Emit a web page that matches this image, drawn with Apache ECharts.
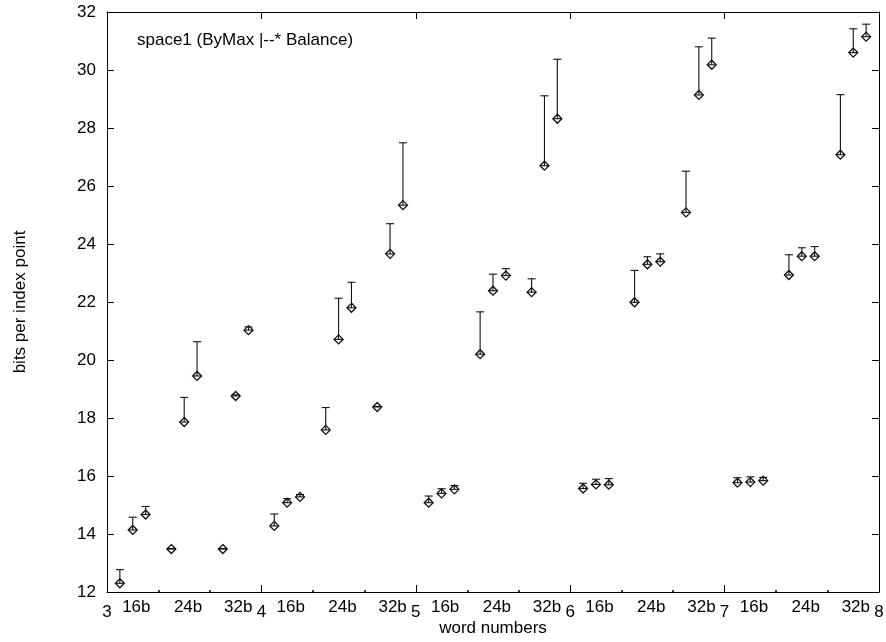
<!DOCTYPE html>
<html>
<head>
<meta charset="utf-8">
<title>space1 (ByMax |--* Balance)</title>
<script src="https://cdn.jsdelivr.net/npm/echarts@6/dist/echarts.min.js"></script>
<style>
  html, body { margin: 0; padding: 0; background: #fff; }
  #chart { width: 886px; height: 642px; }
</style>
</head>
<body>
<div id="chart"></div>
<script>
// word numbers on the x axis, and the three word widths inside each
const wordNumbers = [3, 4, 5, 6, 7];
const wordWidths = ['16b', '24b', '32b'];
const xTickLabels = ['3', '4', '5', '6', '7', '8'];

// Balance values (point) per word number, three runs per width: 16b, 24b, 32b
const balance3 = [12.30, 14.14, 14.67, 13.48, 17.86, 19.45, 13.48, 18.76, 21.03];
const balance4 = [14.28, 15.08, 15.28, 17.59, 20.71, 21.80, 18.38, 23.66, 25.34];
const balance5 = [15.08, 15.40, 15.54, 20.20, 22.39, 22.91, 22.34, 26.70, 28.32];
const balance6 = [15.57, 15.71, 15.70, 21.99, 23.30, 23.39, 25.09, 29.14, 30.18];
const balance7 = [15.77, 15.79, 15.84, 22.93, 23.58, 23.58, 27.08, 30.60, 31.15];

// ByMax values (bar top) in the same order
const byMax3 = [12.77, 14.58, 14.95, 13.50, 18.71, 20.63, 13.50, 18.80, 21.14];
const byMax4 = [14.69, 15.22, 15.36, 18.36, 22.13, 22.68, 18.40, 24.70, 27.49];
const byMax5 = [15.31, 15.56, 15.67, 21.66, 22.96, 23.15, 22.80, 29.11, 30.37];
const byMax6 = [15.75, 15.89, 15.91, 23.09, 23.56, 23.66, 26.51, 30.80, 31.10];
const byMax7 = [15.94, 15.97, 15.95, 23.63, 23.87, 23.91, 29.15, 31.42, 31.58];

const balanceByWord = [balance3, balance4, balance5, balance6, balance7];
const byMaxByWord = [byMax3, byMax4, byMax5, byMax6, byMax7];

// each word number spans one unit: three width slots of 1/3, runs at 1/12 steps
const points = [];
wordNumbers.forEach(function (n, wi) {
  balanceByWord[wi].forEach(function (v, i) {
    const slot = Math.floor(i / 3);
    const run = i % 3;
    const x = n + (slot * 4 + run + 1) / 12;
    points.push([x, v, byMaxByWord[wi][i]]);
  });
});

const minorTicks = [];
const widthLabelPos = [];
wordNumbers.forEach(function (n) {
  minorTicks.push(n + 1 / 3, n + 2 / 3);
  widthLabelPos.push(n + 0.19, n + 0.525, n + 0.85);
});

const font = '"Liberation Sans", Arial, Helvetica, sans-serif';
const black = '#000';

const chart = echarts.init(document.getElementById('chart'), null, { renderer: 'canvas' });

// vertical bar from Balance up to ByMax, caps at both ends, open diamond at Balance
function renderBar(params, api) {
  const x = api.value(0);
  const lo = api.coord([x, api.value(1)]);
  const hi = api.coord([x, api.value(2)]);
  const cap = 4;
  const d = 4.5;
  const lineStyle = { stroke: '#111', lineWidth: 1.1, fill: null };
  return {
    type: 'group',
    children: [
      { type: 'line', shape: { x1: lo[0], y1: lo[1], x2: hi[0], y2: hi[1] }, style: lineStyle },
      { type: 'line', shape: { x1: hi[0] - cap, y1: hi[1], x2: hi[0] + cap, y2: hi[1] }, style: lineStyle },
      { type: 'line', shape: { x1: lo[0] - cap, y1: lo[1], x2: lo[0] + cap, y2: lo[1] }, style: lineStyle },
      {
        type: 'polygon',
        shape: { points: [[lo[0], lo[1] - d], [lo[0] + d, lo[1]], [lo[0], lo[1] + d], [lo[0] - d, lo[1]]] },
        style: { stroke: '#111', lineWidth: 1.3, fill: null }
      }
    ]
  };
}

const option = {
  backgroundColor: '#fff',
  animation: false,
  grid: { left: 107, right: 7, top: 12, bottom: 50, outerBoundsMode: 'none' },
  graphic: [{
    type: 'text',
    left: 137,
    top: 32,
    style: { text: 'space1 (ByMax |--* Balance)', font: '17px ' + font, fill: black }
  }],
  xAxis: [
    {
      type: 'value', position: 'bottom', min: 3, max: 8, interval: 1,
      name: 'word numbers', nameLocation: 'middle', nameGap: 28, nameMoveOverlap: false,
      nameTextStyle: { fontFamily: font, fontSize: 17, color: black },
      axisLine: { show: true, lineStyle: { color: black, width: 1 } },
      axisTick: { show: true, inside: true, length: 7, lineStyle: { color: black } },
      axisLabel: {
        show: true, margin: 12, fontFamily: font, fontSize: 17, color: black,
        showMinLabel: true, showMaxLabel: true,
        formatter: function (v) { return xTickLabels[Math.round(v) - 3]; }
      },
      splitLine: { show: false }
    },
    {
      type: 'value', position: 'bottom', min: 3, max: 8,
      axisLine: { show: false },
      axisTick: { show: true, inside: true, length: 2, customValues: minorTicks, lineStyle: { color: black, width: 1.5 } },
      axisLabel: {
        show: true, margin: 7, fontFamily: font, fontSize: 17, color: black,
        customValues: widthLabelPos,
        formatter: function (v) {
          const f = v - Math.floor(v);
          return wordWidths[f < 0.35 ? 0 : (f < 0.7 ? 1 : 2)];
        }
      },
      splitLine: { show: false }
    },
    {
      type: 'value', position: 'top', min: 3, max: 8, interval: 1,
      axisLine: { show: true, lineStyle: { color: black, width: 1 } },
      axisTick: { show: true, inside: true, length: 7, lineStyle: { color: black } },
      axisLabel: { show: false },
      splitLine: { show: false }
    }
  ],
  yAxis: [
    {
      type: 'value', position: 'left', min: 12, max: 32, interval: 2,
      name: 'bits per index point', nameLocation: 'middle', nameGap: 78, nameMoveOverlap: false,
      nameTextStyle: { fontFamily: font, fontSize: 17, color: black },
      axisLine: { show: true, lineStyle: { color: black, width: 1 } },
      axisTick: { show: true, inside: true, length: 7, lineStyle: { color: black } },
      axisLabel: { show: true, margin: 11, fontFamily: font, fontSize: 17, color: black },
      splitLine: { show: false }
    },
    {
      type: 'value', position: 'right', min: 12, max: 32, interval: 2,
      axisLine: { show: true, lineStyle: { color: black, width: 1 } },
      axisTick: { show: true, inside: true, length: 7, lineStyle: { color: black } },
      axisLabel: { show: false },
      splitLine: { show: false }
    }
  ],
  series: [{
    type: 'custom',
    name: 'space1',
    xAxisIndex: 0,
    yAxisIndex: 0,
    renderItem: renderBar,
    encode: { x: 0, y: [1, 2] },
    data: points,
    clip: false
  }]
};

chart.setOption(option);
</script>
</body>
</html>
